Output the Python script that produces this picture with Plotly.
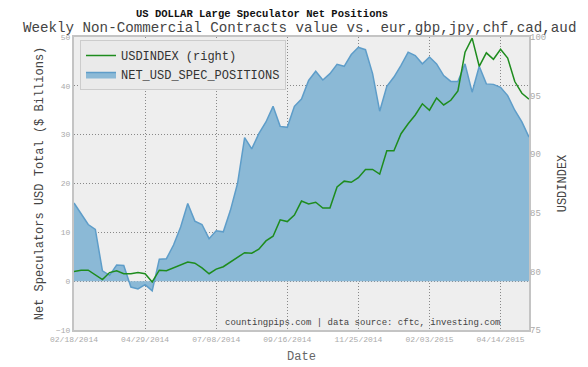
import pandas as pd
import plotly.graph_objects as go

start_date = "2014-02-18"
n_weeks = 65
dates = pd.date_range(start_date, periods=n_weeks, freq="7D")

net_usd_spec_positions = [
    16.0, 13.8, 11.6, 10.6, 2.1, 1.2, 3.3, 3.2, -1.2, -1.6,
    -0.7, -2.0, 4.5, 4.6, 7.4, 11.1, 15.9, 12.3, 11.6, 8.7,
    10.3, 10.1, 14.5, 20.0, 29.4, 27.1, 30.2, 32.6, 35.8, 31.7,
    31.5, 35.8, 37.3, 41.1, 43.0, 41.2, 42.5, 44.4, 44.0, 46.4,
    47.9, 47.4, 42.5, 34.8, 39.9, 41.8, 44.2, 46.9, 46.2, 44.5,
    45.9, 44.5, 42.1, 40.9, 40.9, 44.5, 38.7, 44.0, 40.4, 40.3,
    39.7, 38.0, 35.0, 32.6, 29.5,
]

usdindex = [
    80.0, 80.1, 80.1, 79.7, 79.3, 79.9, 80.05, 79.8, 79.8, 79.9,
    79.8, 79.1, 80.1, 80.05, 80.3, 80.5, 80.8, 80.7, 80.3, 79.8,
    80.2, 80.4, 80.8, 81.25, 81.6, 81.55, 81.9, 82.6, 83.0, 84.4,
    84.25, 84.8, 86.0, 85.75, 85.9, 85.4, 85.4, 87.2, 87.7, 87.6,
    88.0, 88.7, 88.7, 88.3, 90.3, 90.3, 91.75, 92.6, 93.35, 94.3,
    93.75, 94.8, 94.2, 94.6, 95.4, 98.7, 99.9, 97.5, 98.65, 98.1,
    98.95, 98.2, 96.2, 95.2, 94.7,
]

FONT = "Liberation Mono, Courier New, monospace"

# plot area in page pixels (page has an 8px body margin)
PL, PR, PT, PB = 74, 529, 37, 330
PW, PH = PR - PL, PB - PT

fig = go.Figure()

fig.add_trace(go.Scatter(
    x=dates, y=net_usd_spec_positions, name="NET_USD_SPEC_POSITIONS",
    mode="lines", fill="tozeroy",
    line=dict(color="#5e9dc9", width=1.5),
    fillcolor="rgba(139,185,214,1)",
    legendrank=2,
))

fig.add_trace(go.Scatter(
    x=dates, y=usdindex, name="USDINDEX (right)", yaxis="y2",
    mode="lines", line=dict(color="#1e8c1e", width=1.5),
    legendrank=1,
))

GRID = dict(showgrid=True, gridcolor="#888888", griddash="1px,2px", gridwidth=1)

fig.update_layout(
    width=580, height=359,
    margin=dict(l=PL - 8, r=588 - PR, t=PT - 8, b=367 - PB),
    paper_bgcolor="white",
    plot_bgcolor="#eeeeee",
    font=dict(family=FONT, color="#444"),
    showlegend=True,
    legend=dict(
        x=(80 - PL) / PW, y=(PB - 40) / PH, xanchor="left", yanchor="top",
        bgcolor="#eaeaea", bordercolor="#cccccc", borderwidth=1,
        font=dict(family=FONT, size=12, color="#333"),
        tracegroupgap=0,
    ),
    xaxis=dict(
        range=[dates[0], dates[-1]],
        tick0=start_date, dtick=7 * 10 * 86400000,
        tickformat="%m/%d/%Y",
        tickfont=dict(family=FONT, size=8, color="#aaaaaa"),
        showline=True, linecolor="#c4c4c4", linewidth=2, mirror=True,
        zeroline=False, ticks="", automargin=False,
        title=dict(text="Date", font=dict(family=FONT, size=12, color="#666"), standoff=9),
        **GRID,
    ),
    yaxis=dict(
        range=[-10, 50], dtick=10,
        tickfont=dict(family=FONT, size=8, color="#aaaaaa"),
        showline=True, linecolor="#c4c4c4", linewidth=2, mirror=True,
        zeroline=False, ticks="", automargin=False,
        title=dict(text="Net Speculators USD Total ($ Billions)",
                   font=dict(family=FONT, size=12, color="#444"), standoff=10),
        **GRID,
    ),
    yaxis2=dict(
        range=[75, 100], dtick=5, overlaying="y", side="right",
        tickfont=dict(family=FONT, size=9, color="#aaaaaa"),
        showgrid=False, zeroline=False, ticks="", automargin=False,
        title=dict(text="USDINDEX", font=dict(family=FONT, size=12, color="#444"), standoff=12),
    ),
    annotations=[
        dict(text="<b>US DOLLAR Large Speculator Net Positions</b>",
             xref="paper", yref="paper", x=(262 - PL) / PW, y=(PB - 13.5) / PH,
             xanchor="center", yanchor="middle", showarrow=False,
             font=dict(family=FONT, size=10.5, color="#111")),
        dict(text="Weekly Non-Commercial Contracts value vs. eur,gbp,jpy,chf,cad,aud",
             xref="paper", yref="paper", x=(299 - PL) / PW, y=(PB - 28) / PH,
             xanchor="center", yanchor="middle", showarrow=False,
             font=dict(family=FONT, size=14.2, color="#444")),
        dict(text="countingpips.com | data source: cftc, investing.com",
             xref="paper", yref="paper", x=(362 - PL) / PW, y=(PB - 323) / PH,
             xanchor="center", yanchor="middle", showarrow=False,
             font=dict(family=FONT, size=9, color="#444")),
    ],
)

fig.write_html("out.html")
